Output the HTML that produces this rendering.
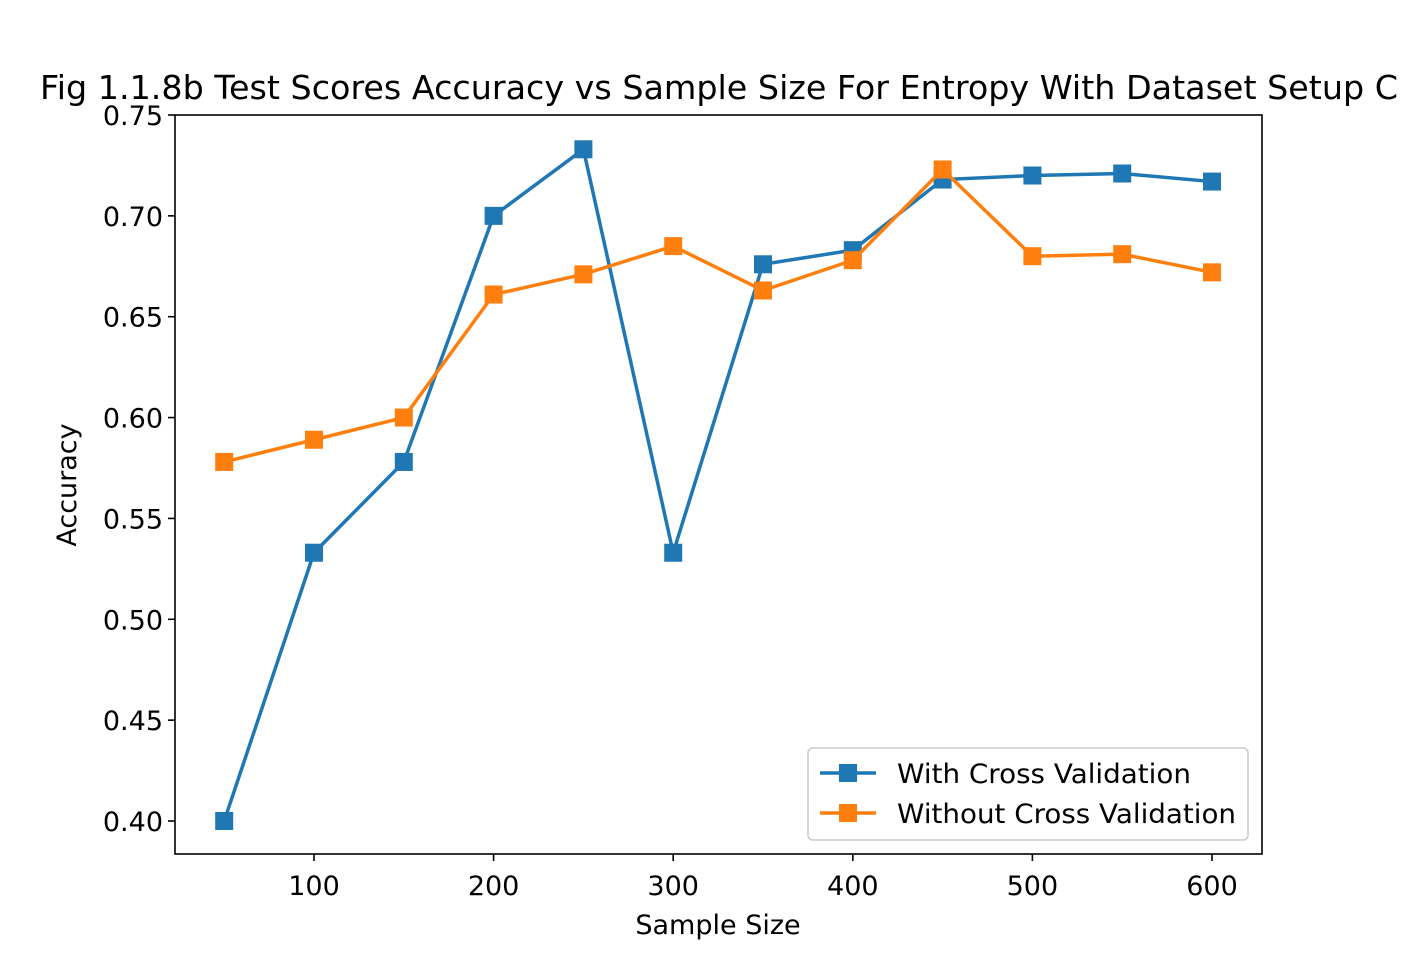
<!DOCTYPE html>
<html><head><meta charset="utf-8"><style>body{margin:0;background:#fff}svg{display:block;font-family:"DejaVu Sans","Liberation Sans",sans-serif}</style></head>
<body>
<svg id="chart" width="1402" height="960" viewBox="0 0 1402 960" xmlns="http://www.w3.org/2000/svg"></svg>
<script>
const sampleSizes=[50,100,150,200,250,300,350,400,450,500,550,600];
const withCV=[0.400,0.533,0.578,0.700,0.733,0.533,0.676,0.683,0.718,0.720,0.721,0.717];
const withoutCV=[0.578,0.589,0.600,0.661,0.671,0.685,0.663,0.678,0.723,0.680,0.681,0.672];
const xTicks=[100,200,300,400,500,600];
const yTicks=[0.40,0.45,0.50,0.55,0.60,0.65,0.70,0.75];
const L=175,R=1262,T=115,B=854;
const sx=v=>314+(v-100)*1.796;
const sy=v=>821-(v-0.40)*2017.14;
const svg=document.getElementById('chart');
const NS='http://www.w3.org/2000/svg';
function mk(tag,attrs,parent){const e=document.createElementNS(NS,tag);for(const k in attrs)e.setAttribute(k,attrs[k]);(parent||svg).appendChild(e);return e;}
let t=mk('text',{x:719,y:99,'text-anchor':'middle','font-size':33,textLength:1358,lengthAdjust:'spacingAndGlyphs'});t.textContent='Fig 1.1.8b Test Scores Accuracy vs Sample Size For Entropy With Dataset Setup C';


xTicks.forEach(v=>{const x=sx(v);mk('line',{x1:x,x2:x,y1:B,y2:B+7,stroke:'#000','stroke-width':1.6});const tx=mk('text',{x:x,y:B+41,'text-anchor':'middle','font-size':27});tx.textContent=v;

});
yTicks.forEach(v=>{const y=sy(v);mk('line',{x1:L-7,x2:L,y1:y,y2:y,stroke:'#000','stroke-width':1.6});const ty=mk('text',{x:L-12,y:y+10,'text-anchor':'end','font-size':27});ty.textContent=v.toFixed(2);

});
let xl=mk('text',{x:718,y:934,'text-anchor':'middle','font-size':27});xl.textContent='Sample Size';


let yl=mk('text',{x:0,y:0,'text-anchor':'middle','font-size':27,transform:'translate(76,485) rotate(-90)'});yl.textContent='Accuracy';


function series(vals,color,name){const g=mk('g',{});


mk('polyline',{points:vals.map((v,i)=>sx(sampleSizes[i])+','+sy(v)).join(' '),fill:'none',stroke:color,'stroke-width':3.5},g);
vals.forEach((v,i)=>{const m=mk('rect',{x:sx(sampleSizes[i])-9,y:sy(v)-9,width:18,height:18,fill:color},g);

});}
series(withCV,'#1f77b4','with-cv-series');
series(withoutCV,'#ff7f0e','without-cv-series');
const frame=mk('rect',{x:L,y:T,width:R-L,height:B-T,fill:'none',stroke:'#000','stroke-width':1.6});


const lg=mk('g',{});


mk('rect',{x:808,y:748,width:440,height:92,rx:5,fill:'#fff','fill-opacity':0.8,stroke:'#ccc','stroke-width':1.6},lg);
[['With Cross Validation','#1f77b4',773,294],['Without Cross Validation','#ff7f0e',813,339]].forEach(([n,c,y,w])=>{
mk('line',{x1:820,x2:876,y1:y,y2:y,stroke:c,'stroke-width':3.5},lg);
mk('rect',{x:839,y:y-9,width:18,height:18,fill:c},lg);
const e=mk('text',{x:897,y:y+10,'font-size':27,textLength:w,lengthAdjust:'spacingAndGlyphs'},lg);e.textContent=n;

});
</script>
</body></html>
